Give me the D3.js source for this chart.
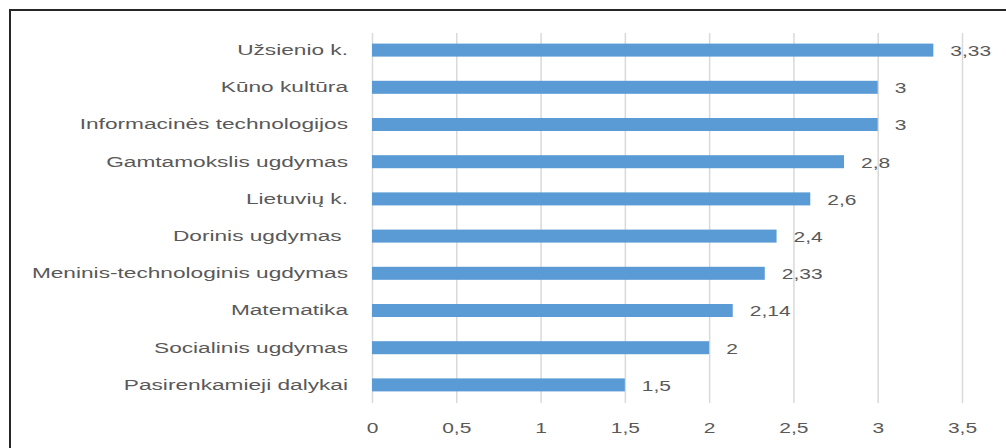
<!DOCTYPE html>
<html>
<head>
<meta charset="utf-8">
<script src="https://cdn.jsdelivr.net/npm/d3@7"></script>
<style>
  html, body { margin: 0; padding: 0; background: #fff; }
  svg { display: block; }
  text { font-family: "Liberation Sans", Arial, sans-serif; fill: #595959; }
</style>
</head>
<body>
<svg id="chart" width="1006" height="448"></svg>
<script>
const categories = [
  "Užsienio k.",
  "Kūno kultūra",
  "Informacinės technologijos",
  "Gamtamokslis ugdymas",
  "Lietuvių k.",
  "Dorinis ugdymas ",
  "Meninis-technologinis ugdymas",
  "Matematika",
  "Socialinis ugdymas",
  "Pasirenkamieji dalykai"
];
const values = [3.33, 3, 3, 2.8, 2.6, 2.4, 2.33, 2.14, 2, 1.5];
const valueLabels = ["3,33", "3", "3", "2,8", "2,6", "2,4", "2,33", "2,14", "2", "1,5"];
const tickValues = [0, 0.5, 1, 1.5, 2, 2.5, 3, 3.5];
const tickLabels = ["0", "0,5", "1", "1,5", "2", "2,5", "3", "3,5"];

const svg = d3.select("#chart");
const SX = 1.5;    // horizontal stretch of numeric text
const SXC = 1.62;  // horizontal stretch of category text
const FS = 14;

// frame (top and left borders)
svg.append("line").attr("x1", 10).attr("x2", 1006).attr("y1", 10).attr("y2", 10)
  .attr("stroke", "#262626").attr("stroke-width", 2);
svg.append("line").attr("x1", 10).attr("x2", 10).attr("y1", 9).attr("y2", 448)
  .attr("stroke", "#262626").attr("stroke-width", 2);

const x = d3.scaleLinear().domain([0, 3.5]).range([372, 962]);
const y = d3.scaleBand().domain(categories).range([31.5, 403.5])
  .paddingInner(0.65).paddingOuter(0.325);

// gridlines via axis
const grid = svg.append("g").attr("transform", "translate(0,403)")
  .call(d3.axisTop(x).tickValues(tickValues).tickSize(370).tickFormat(""));
grid.select(".domain").remove();
grid.selectAll(".tick line").attr("stroke", "#d9d9d9").attr("stroke-width", 1.5);

// tick labels
const xAxis = svg.append("g").attr("transform", "translate(0,428)")
  .call(d3.axisBottom(x).tickValues(tickValues).tickSize(0).tickPadding(0)
    .tickFormat((d, i) => tickLabels[i]));
xAxis.select(".domain").remove();
xAxis.selectAll(".tick text")
  .attr("y", 0).attr("dy", "0.35em")
  .attr("font-size", FS)
  .attr("font-family", "Liberation Sans, Arial, sans-serif")
  .attr("fill", "#595959")
  .attr("transform", `scale(${SX},1)`);

// category labels
const yAxis = svg.append("g").attr("transform", "translate(348,0)")
  .call(d3.axisLeft(y).tickSize(0).tickPadding(0));
yAxis.select(".domain").remove();
yAxis.selectAll(".tick text")
  .attr("x", 0).attr("dy", "0.35em")
  .attr("font-size", FS)
  .attr("font-family", "Liberation Sans, Arial, sans-serif")
  .attr("fill", "#595959")
  .attr("text-anchor", "end")
  .style("white-space", "pre")
  .attr("transform", `scale(${SXC},1)`);

// bars
svg.append("g").selectAll("rect").data(values).join("rect")
  .attr("x", x(0))
  .attr("y", (d, i) => y(categories[i]))
  .attr("width", d => x(d) - x(0))
  .attr("height", y.bandwidth())
  .attr("fill", "#5b9bd5");

// value labels
svg.append("g").selectAll("text").data(values).join("text")
  .attr("transform", (d, i) => `translate(${x(d) + 17},${y(categories[i]) + y.bandwidth() / 2 + 1}) scale(${SX},1)`)
  .attr("dy", "0.35em")
  .attr("font-size", FS)
  .text((d, i) => valueLabels[i]);
</script>
</body>
</html>
